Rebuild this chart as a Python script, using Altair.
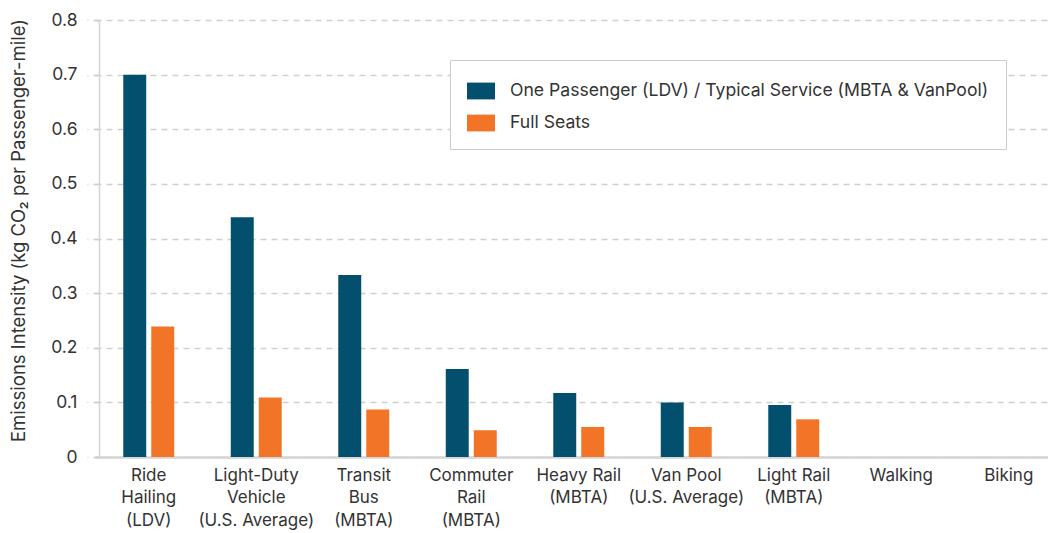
import altair as alt
import pandas as pd

categories = [
    "Ride|Hailing|(LDV)",
    "Light-Duty|Vehicle|(U.S. Average)",
    "Transit|Bus|(MBTA)",
    "Commuter|Rail|(MBTA)",
    "Heavy Rail|(MBTA)",
    "Van Pool|(U.S. Average)",
    "Light Rail|(MBTA)",
    "Walking",
    "Biking",
]
series_names = [
    "One Passenger (LDV) / Typical Service (MBTA & VanPool)",
    "Full Seats",
]
one_passenger = [0.700, 0.439, 0.333, 0.161, 0.117, 0.100, 0.095, 0.0, 0.0]
full_seats = [0.239, 0.109, 0.087, 0.049, 0.055, 0.055, 0.069, 0.0, 0.0]
y_ticks = [0, 0.1, 0.2, 0.3, 0.4, 0.5, 0.6, 0.7, 0.8]
colors = ["#024F6E", "#F27427"]

rows = []
for c, a, b in zip(categories, one_passenger, full_seats):
    rows.append({"category": c, "series": series_names[0], "value": a})
    rows.append({"category": c, "series": series_names[1], "value": b})
df = pd.DataFrame(rows)

FONT = "Inter"
TEXT = "#333333"
GRID = "#CFCFCF"

chart = alt.Chart(df).mark_bar().encode(
    x=alt.X(
        "category:N",
        sort=categories,
        scale=alt.Scale(range=[-4, 963.5], paddingInner=0.526, paddingOuter=0.263),
        axis=alt.Axis(
            title=None,
            labelAngle=0,
            labelExpr="split(datum.label, '|')",
            labelFont=FONT,
            labelFontSize=17,
            labelColor=TEXT,
            labelLineHeight=22.5,
            labelPadding=10,
            labelBaseline="top",
            labelLimit=0,
            ticks=False,
            domainColor="#D4D4D4",
            domainWidth=2.5,
            grid=False,
        ),
    ),
    xOffset=alt.XOffset(
        "series:N",
        sort=series_names,
        scale=alt.Scale(paddingInner=0.18, paddingOuter=0),
    ),
    y=alt.Y(
        "value:Q",
        scale=alt.Scale(domain=[0, 0.8], nice=False, zero=True),
        axis=alt.Axis(
            title="Emissions Intensity (kg CO\u2082 per Passenger-mile)",
            titleFont=FONT,
            titleFontSize=18.5,
            titleFontWeight="normal",
            titleColor=TEXT,
            titleX=-71,
            titleY=210,
            titleAngle=-90,
            titleBaseline="bottom",
            titleLimit=0,
            values=y_ticks,
            labelExpr="datum.value == 0 ? '0' : format(datum.value, '.1f')",
            labelFont=FONT,
            labelFontSize=17.5,
            labelColor=TEXT,
            labelPadding=10,
            tickSize=12,
            tickColor=GRID,
            tickDash=[6, 5],
            tickWidth=1.5,
            domainColor="#D4D4D4",
            domainWidth=1.5,
            grid=True,
            gridColor=GRID,
            gridDash=[6, 5],
            gridWidth=1.5,
        ),
    ),
    color=alt.Color(
        "series:N",
        sort=series_names,
        scale=alt.Scale(domain=series_names, range=colors),
        legend=alt.Legend(
            title=None,
            orient="none",
            legendX=351,
            legendY=40,
            direction="vertical",
            symbolType="M-1,-0.6H1V0.6H-1Z",
            symbolSize=784,
            symbolStrokeWidth=0,
            labelFont=FONT,
            labelFontSize=17.6,
            labelColor=TEXT,
            labelOffset=15,
            labelLimit=0,
            rowPadding=9,
            padding=17,
            strokeColor="#CCCCCC",
            fillColor="white",
        ),
    ),
).properties(
    width=949,
    height=437,
    autosize=alt.AutoSizeParams(type="none"),
    padding={"left": 91, "top": 12, "right": 0, "bottom": 76},
).configure_view(stroke=None)

chart.save("out.html", embed_options={"renderer": "svg", "actions": False})
